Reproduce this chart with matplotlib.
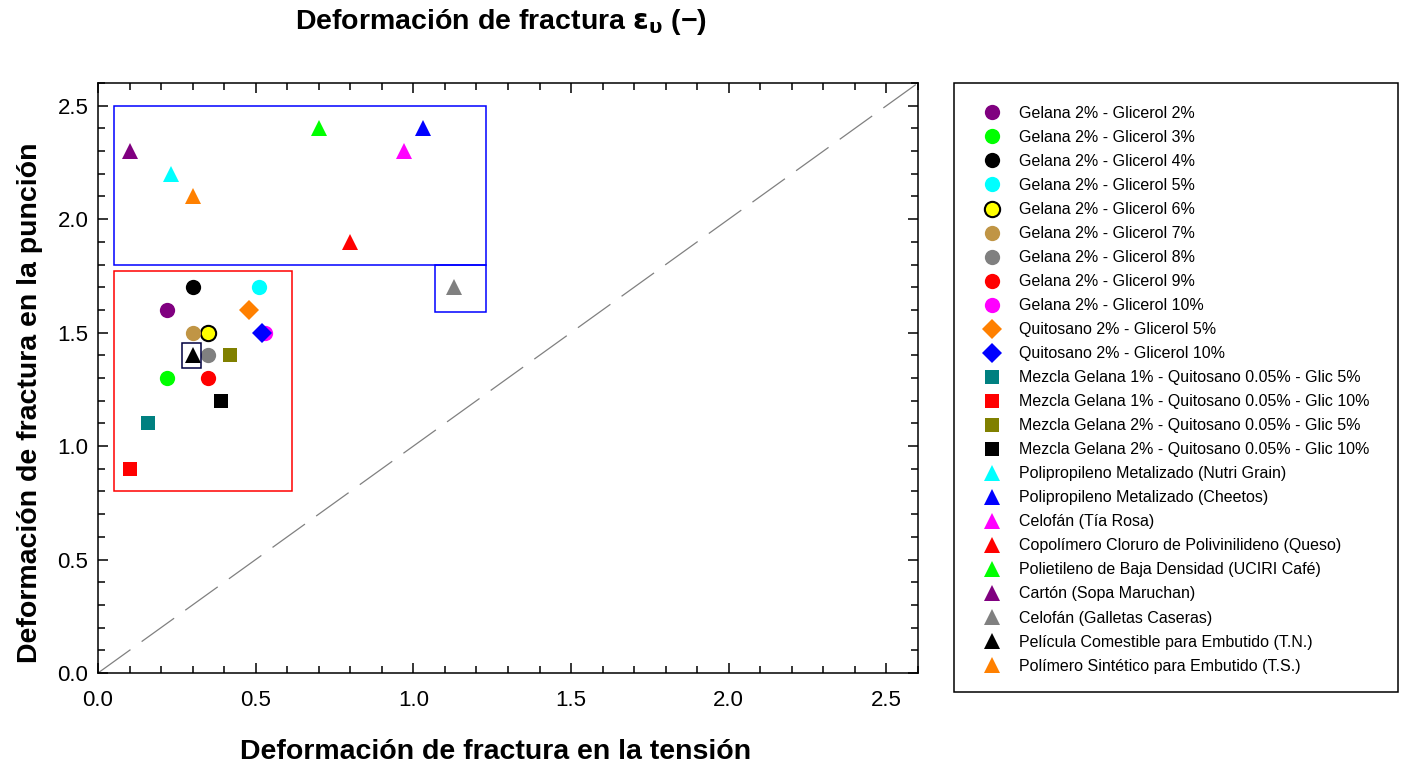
import matplotlib
matplotlib.use("Agg")
import matplotlib.pyplot as plt
from matplotlib.patches import Rectangle
from matplotlib.ticker import MultipleLocator, FormatStrFormatter
from matplotlib.lines import Line2D

plt.rcParams['font.family'] = ['Liberation Sans', 'DejaVu Sans']
plt.rcParams['mathtext.fontset'] = 'dejavusans'

# Series: label, marker, colour, x (tension), y (punción)
labels = [
    "Gelana 2% - Glicerol 2%",
    "Gelana 2% - Glicerol 3%",
    "Gelana 2% - Glicerol 4%",
    "Gelana 2% - Glicerol 5%",
    "Gelana 2% - Glicerol 6%",
    "Gelana 2% - Glicerol 7%",
    "Gelana 2% - Glicerol 8%",
    "Gelana 2% - Glicerol 9%",
    "Gelana 2% - Glicerol 10%",
    "Quitosano 2% - Glicerol 5%",
    "Quitosano 2% - Glicerol 10%",
    "Mezcla Gelana 1% - Quitosano 0.05% - Glic 5%",
    "Mezcla Gelana 1% - Quitosano 0.05% - Glic 10%",
    "Mezcla Gelana 2% - Quitosano 0.05% - Glic 5%",
    "Mezcla Gelana 2% - Quitosano 0.05% - Glic 10%",
    "Polipropileno Metalizado (Nutri Grain)",
    "Polipropileno Metalizado (Cheetos)",
    "Celofán (Tía Rosa)",
    "Copolímero Cloruro de Polivinilideno (Queso)",
    "Polietileno de Baja Densidad (UCIRI Café)",
    "Cartón (Sopa Maruchan)",
    "Celofán (Galletas Caseras)",
    "Película Comestible para Embutido (T.N.)",
    "Polímero Sintético para Embutido (T.S.)",
]
x_tension = [0.22, 0.22, 0.30, 0.51, 0.35, 0.30, 0.35, 0.35, 0.53, 0.48, 0.52,
             0.16, 0.10, 0.42, 0.39,
             0.23, 1.03, 0.97, 0.80, 0.70, 0.10, 1.13, 0.30, 0.30]
y_puncion = [1.6, 1.3, 1.7, 1.7, 1.5, 1.5, 1.4, 1.3, 1.5, 1.6, 1.5,
             1.1, 0.9, 1.4, 1.2,
             2.2, 2.4, 2.3, 1.9, 2.4, 2.3, 1.7, 1.4, 2.1]
markers = ['o'] * 9 + ['D'] * 2 + ['s'] * 4 + ['^'] * 9
colors = ['#800080', '#00FF00', '#000000', '#00FFFF', '#FFFF00', '#C09545',
          '#808080', '#FF0000', '#FF00FF', '#FF8000', '#0000FF',
          '#008080', '#FF0000', '#808000', '#000000',
          '#00FFFF', '#0000FF', '#FF00FF', '#FF0000', '#00FF00', '#800080',
          '#808080', '#000000', '#FF8000']
edges = ['none'] * 24
edges[4] = 'black'
sizes = {'o': 11.0, 'D': 10.0, 's': 9.5, '^': 11.5}


def marker_style(m, c, e):
    return dict(linestyle='none', marker=m, ms=sizes[m], mfc=c,
                mec=(e if e != 'none' else c), mew=(1.5 if e != 'none' else 0.0))


fig = plt.figure(figsize=(14.04, 7.69), dpi=100)
ax = fig.add_axes([98 / 1404, 1 - 673 / 769, 820 / 1404, 590 / 769])

# identity line
ax.plot([0, 2.6], [0, 2.6], color='#808080', lw=0.9, dashes=(32, 11), zorder=1)

handles = []
for lab, xv, yv, m, c, e in zip(labels, x_tension, y_puncion, markers, colors, edges):
    ax.plot([xv], [yv], zorder=3, **marker_style(m, c, e))
    handles.append(Line2D([], [], label=lab, **marker_style(m, c, e)))

# group boxes
ax.add_patch(Rectangle((0.05, 1.8), 1.18, 0.7, fill=False, ec='#0000FF', lw=1.1, zorder=2))
ax.add_patch(Rectangle((1.07, 1.59), 0.16, 0.21, fill=False, ec='#0000FF', lw=1.1, zorder=2))
ax.add_patch(Rectangle((0.05, 0.8), 0.565, 0.97, fill=False, ec='#FF0000', lw=1.1, zorder=2))
ax.add_patch(Rectangle((0.267, 1.345), 0.058, 0.11, fill=False, ec='#000040', lw=1.1, zorder=4))

ax.set_xlim(0, 2.6)
ax.set_ylim(0, 2.6)
ax.xaxis.set_major_locator(MultipleLocator(0.5))
ax.yaxis.set_major_locator(MultipleLocator(0.5))
ax.xaxis.set_minor_locator(MultipleLocator(0.1))
ax.yaxis.set_minor_locator(MultipleLocator(0.1))
ax.xaxis.set_major_formatter(FormatStrFormatter('%.1f'))
ax.yaxis.set_major_formatter(FormatStrFormatter('%.1f'))
ax.tick_params(which='both', direction='in', top=True, right=True, width=1.1)
ax.tick_params(which='major', length=7, labelsize=16)
ax.tick_params(which='minor', length=5)
ax.tick_params(axis='x', which='major', pad=12)
ax.tick_params(axis='y', which='major', pad=7)
for s in ax.spines.values():
    s.set_linewidth(1.1)

ax.set_xlabel("Deformación de fractura en la tensión", fontsize=20.5, fontweight='bold')
ax.set_ylabel("Deformación de fractura en la punción", fontsize=20.5, fontweight='bold')
ax.xaxis.set_label_coords((496 - 98) / 820, -(752 - 673) / 590)
ax.yaxis.set_label_coords(-(98 - 30) / 820, (673 - 403) / 590)
ax.xaxis.label.set_va('center')
ax.yaxis.label.set_va('center')

fig.text(501 / 1404, 1 - 22 / 769,
         r"Deformación de fractura $\mathbf{\varepsilon_{\upsilon}}$ (−)",
         fontsize=20.5, fontweight='bold', ha='center', va='center')

# legend panel
fig.patches.append(Rectangle((954 / 1404, 1 - 692 / 769), 444 / 1404, 609 / 769,
                             transform=fig.transFigure, fill=False, ec='black', lw=1.1))
fig.legend(handles=handles, loc='upper left', bbox_to_anchor=(981 / 1404, 1 - 106 / 769),
           frameon=False, fontsize=11.5, handlelength=1.4, handletextpad=0.97,
           labelspacing=0.565, borderaxespad=0, borderpad=0)

fig.savefig("out.png", dpi=100)
